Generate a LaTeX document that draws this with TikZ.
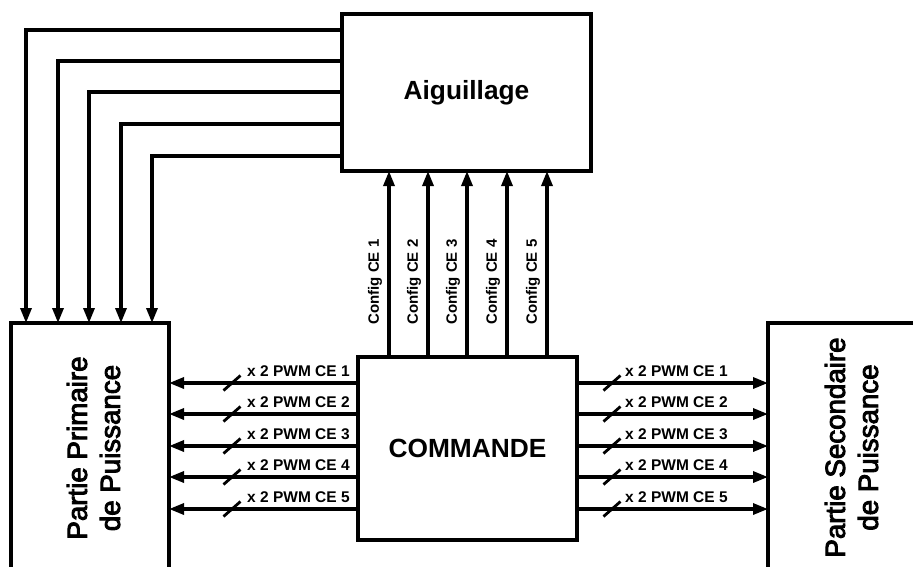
\documentclass[tikz,border=0pt]{standalone}
\usepackage{fontspec}
\setmainfont{Liberation Sans}
\newcommand\strk[1]{\special{pdf:literal direct 2 Tr 0.9 w}#1\special{pdf:literal direct 0 Tr}}
\usetikzlibrary{arrows.meta}
\tikzset{
  ln/.style={line width=3.2pt},
  blk/.style={draw, line width=3.2pt, inner sep=0pt, outer sep=0pt},
  arr/.style={ln, -{Triangle[length=15pt,width=11pt]}},
  big/.style={font=\bfseries\fontsize{26.3}{30}\selectfont},
  side/.style={font=\fontsize{27.7}{33}\selectfont, align=center, rotate=90},
  pwm/.style={font=\bfseries\fontsize{15.5}{18}\selectfont, anchor=west, inner sep=0pt},
  cfg/.style={font=\bfseries\fontsize{15}{18}\selectfont, rotate=90, inner sep=0pt},
  slash/.style={line width=2.8pt}
}
\begin{document}
\begin{tikzpicture}[x=1pt,y=-1pt]
\useasboundingbox (0,0) rectangle (913,566);
\clip (0,0) rectangle (913,566);
% blocks
\node[blk, minimum width=249pt, minimum height=157pt] (aig) at (466.5,92.5) {};
\node[big] (aigt) at (466.5,92.5) {Aiguillage};
\node[blk, minimum width=219pt, minimum height=183pt] (cmd) at (467.5,448.5) {};
\node[big] (cmdt) at (467.5,448.5) {COMMANDE};
\node[blk, minimum width=158pt, minimum height=320pt] (pp) at (90,483) {};
\node[side] (ppt) at (93.5,448) {\strk{Partie Primaire}\\\strk{de Puissance}};
\node[blk, minimum width=260pt, minimum height=320pt] (ps) at (898,483) {};
\node[side] (pst) at (851.5,447.5) {\strk{Partie Secondaire}\\\strk{de Puissance}};
% Aiguillage -> Partie primaire
\foreach \i/\y/\x in {1/30/26, 2/61/58, 3/92/89, 4/124/121, 5/156/152}{
  \coordinate (a\i) at (aig.west |- 0,\y);
  \coordinate (c\i) at (\x,\y);
  \draw[arr] (a\i) -- (c\i) -- (c\i |- pp.north);
}
% Config arrows
\foreach \i/\x in {1/389, 2/428, 3/467, 4/507, 5/547}{
  \coordinate (u\i) at (\x,0);
  \draw[arr] (u\i |- cmd.north) -- (u\i |- aig.south);
  \node[cfg] (cfg\i) at (\x-14,282) {Config CE \i};
}
% PWM lines
\foreach \i/\y in {1/383, 2/414, 3/446, 4/477, 5/509}{
  \coordinate (h\i) at (0,\y);
  \draw[arr] (cmd.west |- h\i) -- (pp.east |- h\i);
  \draw[arr] (cmd.east |- h\i) -- (ps.west |- h\i);
  \draw[slash] (223.5,\y+7.5) -- (240.5,\y-7.5);
  \draw[slash] (603.5,\y+7.5) -- (620.5,\y-7.5);
  \node[pwm] (pl\i) at (247,\y-12) {x 2 PWM CE \i};
  \node[pwm] (pr\i) at (625,\y-12) {x 2 PWM CE \i};
}
\end{tikzpicture}
\end{document}
